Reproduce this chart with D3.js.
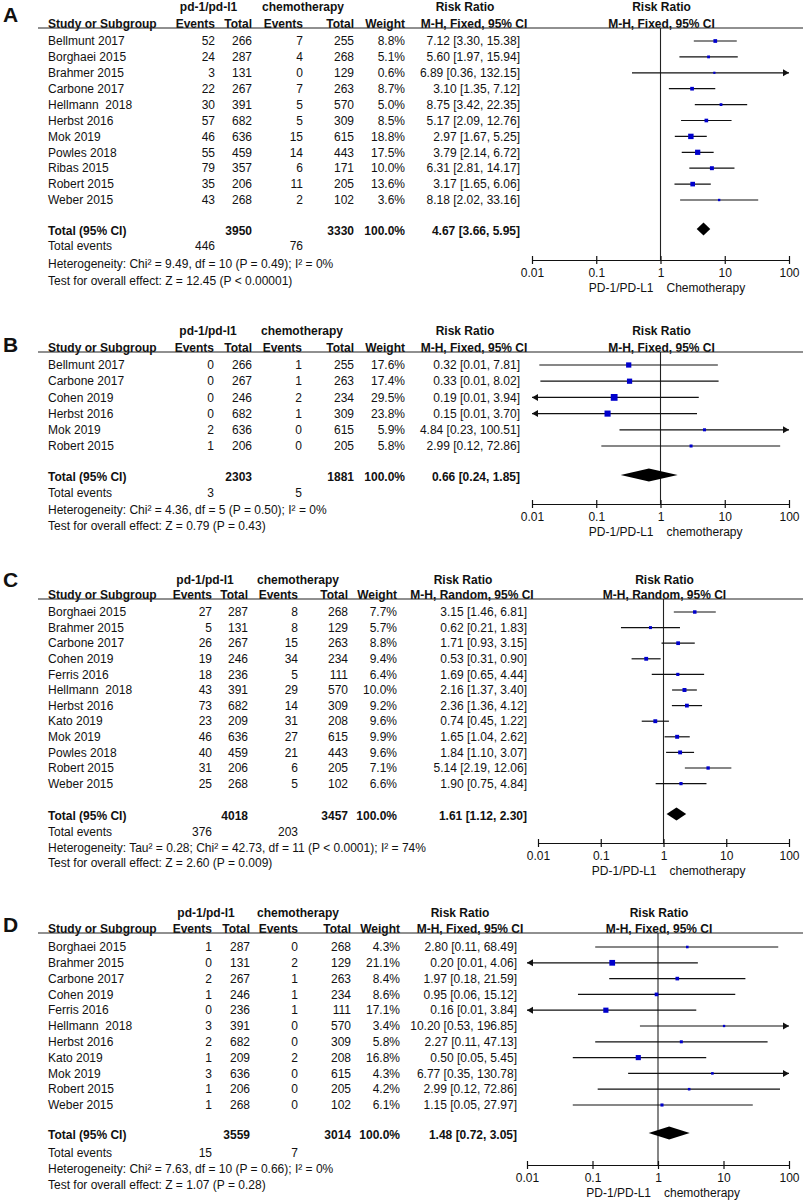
<!DOCTYPE html>
<html>
<head>
<meta charset="utf-8">
<script src="https://cdn.jsdelivr.net/npm/d3@7"></script>
<style>
  body { margin: 0; background: #fff; }
  svg text { font-family: "Liberation Sans", Arial, sans-serif; fill: #111; white-space: pre; }
</style>
</head>
<body>
<script>
// ---- data ----
var tickValues = [0.01, 0.1, 1, 10, 100];
var tickLabels = ["0.01", "0.1", "1", "10", "100"];

// A: Fixed
var aStudies = ["Bellmunt 2017", "Borghaei 2015", "Brahmer 2015", "Carbone 2017", "Hellmann  2018", "Herbst 2016", "Mok 2019", "Powles 2018", "Ribas 2015", "Robert 2015", "Weber 2015"];
var aPdEvents = [52, 24, 3, 22, 30, 57, 46, 55, 79, 35, 43];
var aPdTotal = [266, 287, 131, 267, 391, 682, 636, 459, 357, 206, 268];
var aChEvents = [7, 4, 0, 7, 5, 5, 15, 14, 6, 11, 2];
var aChTotal = [255, 268, 129, 263, 570, 309, 615, 443, 171, 205, 102];
var aWeight = [8.8, 5.1, 0.6, 8.7, 5.0, 8.5, 18.8, 17.5, 10.0, 13.6, 3.6];
var aRR = [7.12, 5.60, 6.89, 3.10, 8.75, 5.17, 2.97, 3.79, 6.31, 3.17, 8.18];
var aLo = [3.30, 1.97, 0.36, 1.35, 3.42, 2.09, 1.67, 2.14, 2.81, 1.65, 2.02];
var aHi = [15.38, 15.94, 132.15, 7.12, 22.35, 12.76, 5.25, 6.72, 14.17, 6.06, 33.16];
var aTotals = [3950, 3330, 100.0];   // pd total, chemo total, weight
var aPooled = [4.67, 3.66, 5.95];
var aEvents = [446, 76];

// B: Fixed
var bStudies = ["Bellmunt 2017", "Carbone 2017", "Cohen 2019", "Herbst 2016", "Mok 2019", "Robert 2015"];
var bPdEvents = [0, 0, 0, 0, 2, 1];
var bPdTotal = [266, 267, 246, 682, 636, 206];
var bChEvents = [1, 1, 2, 1, 0, 0];
var bChTotal = [255, 263, 234, 309, 615, 205];
var bWeight = [17.6, 17.4, 29.5, 23.8, 5.9, 5.8];
var bRR = [0.32, 0.33, 0.19, 0.15, 4.84, 2.99];
var bLo = [0.013, 0.0135, 0.009, 0.009, 0.23, 0.12];
var bHi = [7.81, 8.02, 3.94, 3.70, 100.51, 72.86];
var bTotals = [2303, 1881, 100.0];
var bPooled = [0.66, 0.24, 1.85];
var bEvents = [3, 5];

// C: Random
var cStudies = ["Borghaei 2015", "Brahmer 2015", "Carbone 2017", "Cohen 2019", "Ferris 2016", "Hellmann  2018", "Herbst 2016", "Kato 2019", "Mok 2019", "Powles 2018", "Robert 2015", "Weber 2015"];
var cPdEvents = [27, 5, 26, 19, 18, 43, 73, 23, 46, 40, 31, 25];
var cPdTotal = [287, 131, 267, 246, 236, 391, 682, 209, 636, 459, 206, 268];
var cChEvents = [8, 8, 15, 34, 5, 29, 14, 31, 27, 21, 6, 5];
var cChTotal = [268, 129, 263, 234, 111, 570, 309, 208, 615, 443, 205, 102];
var cWeight = [7.7, 5.7, 8.8, 9.4, 6.4, 10.0, 9.2, 9.6, 9.9, 9.6, 7.1, 6.6];
var cRR = [3.15, 0.62, 1.71, 0.53, 1.69, 2.16, 2.36, 0.74, 1.65, 1.84, 5.14, 1.90];
var cLo = [1.46, 0.21, 0.93, 0.31, 0.65, 1.37, 1.36, 0.45, 1.04, 1.10, 2.19, 0.75];
var cHi = [6.81, 1.83, 3.15, 0.90, 4.44, 3.40, 4.12, 1.22, 2.62, 3.07, 12.06, 4.84];
var cTotals = [4018, 3457, 100.0];
var cPooled = [1.61, 1.12, 2.30];
var cEvents = [376, 203];

// D: Fixed
var dStudies = ["Borghaei 2015", "Brahmer 2015", "Carbone 2017", "Cohen 2019", "Ferris 2016", "Hellmann  2018", "Herbst 2016", "Kato 2019", "Mok 2019", "Robert 2015", "Weber 2015"];
var dPdEvents = [1, 0, 2, 1, 0, 3, 2, 1, 3, 1, 1];
var dPdTotal = [287, 131, 267, 246, 236, 391, 682, 209, 636, 206, 268];
var dChEvents = [0, 2, 1, 1, 1, 0, 0, 2, 0, 0, 0];
var dChTotal = [268, 129, 263, 234, 111, 570, 309, 208, 615, 205, 102];
var dWeight = [4.3, 21.1, 8.4, 8.6, 17.1, 3.4, 5.8, 16.8, 4.3, 4.2, 6.1];
var dRR = [2.80, 0.20, 1.97, 0.95, 0.16, 10.20, 2.27, 0.50, 6.77, 2.99, 1.15];
var dLo = [0.11, 0.009, 0.18, 0.06, 0.009, 0.53, 0.11, 0.05, 0.35, 0.12, 0.05];
var dHi = [68.49, 4.06, 21.59, 15.12, 3.84, 196.85, 47.13, 5.45, 130.78, 72.86, 27.97];
var dTotals = [3559, 3014, 100.0];
var dPooled = [1.48, 0.72, 3.05];
var dEvents = [15, 7];

// ---- panel layout ----
var panels = [
  { label: "A", method: "M-H, Fixed, 95% CI", right: "Chemotherapy",
    het: "Heterogeneity: Chi\u00b2 = 9.49, df = 10 (P = 0.49); I\u00b2 = 0%",
    test: "Test for overall effect: Z = 12.45 (P < 0.00001)",
    studies: aStudies, pe: aPdEvents, pt: aPdTotal, ce: aChEvents, ct: aChTotal, w: aWeight, rr: aRR, lo: aLo, hi: aHi,
    totals: aTotals, pooled: aPooled, events: aEvents,
    labY: 15, h1: 7, h2: 24, line: 28, row0: 41, step: 15.9, total: 231, ev: 246, hetY: 264, testY: 281, axis: 260,
    cols: [215, 252, 303, 354, 405, 520], rrHead: 465, rrHead2: 474, x0: 532 },
  { label: "B", method: "M-H, Fixed, 95% CI", right: "chemotherapy",
    het: "Heterogeneity: Chi\u00b2 = 4.36, df = 5 (P = 0.50); I\u00b2 = 0%",
    test: "Test for overall effect: Z = 0.79 (P = 0.43)",
    studies: bStudies, pe: bPdEvents, pt: bPdTotal, ce: bChEvents, ct: bChTotal, w: bWeight, rr: bRR, lo: bLo, hi: bHi,
    totals: bTotals, pooled: bPooled, events: bEvents,
    labY: 345, h1: 331, h2: 348, line: 352, row0: 365, step: 16.2, total: 477, ev: 493, hetY: 510, testY: 526, axis: 504,
    cols: [214, 252, 302, 354, 405, 520], rrHead: 465, rrHead2: 474, x0: 532 },
  { label: "C", method: "M-H, Random, 95% CI", right: "chemotherapy",
    het: "Heterogeneity: Tau\u00b2 = 0.28; Chi\u00b2 = 42.73, df = 11 (P < 0.0001); I\u00b2 = 74%",
    test: "Test for overall effect: Z = 2.60 (P = 0.009)",
    studies: cStudies, pe: cPdEvents, pt: cPdTotal, ce: cChEvents, ct: cChTotal, w: cWeight, rr: cRR, lo: cLo, hi: cHi,
    totals: cTotals, pooled: cPooled, events: cEvents,
    labY: 580, h1: 580, h2: 595, line: 599, row0: 612, step: 15.6, total: 816, ev: 832, hetY: 848, testY: 863, axis: 843,
    cols: [212, 248, 298, 348, 397, 527], rrHead: 463, rrHead2: 472, x0: 538 },
  { label: "D", method: "M-H, Fixed, 95% CI", right: "chemotherapy",
    het: "Heterogeneity: Chi\u00b2 = 7.63, df = 10 (P = 0.66); I\u00b2 = 0%",
    test: "Test for overall effect: Z = 1.07 (P = 0.28)",
    studies: dStudies, pe: dPdEvents, pt: dPdTotal, ce: dChEvents, ct: dChTotal, w: dWeight, rr: dRR, lo: dLo, hi: dHi,
    totals: dTotals, pooled: dPooled, events: dEvents,
    labY: 925, h1: 913, h2: 929, line: 933, row0: 947, step: 15.8, total: 1135, ev: 1153, hetY: 1169, testY: 1185, axis: 1165,
    cols: [212, 250, 298, 351, 400, 517], rrHead: 460, rrHead2: 470, x0: 527 }
];

var W = 803, H = 1200;
var x1 = 789;
var studyX = 48;
var fs = 12;

var svg = d3.select("body").append("svg")
  .attr("width", W)
  .attr("height", H);

function txt(g, x, y, s, anchor, bold, size) {
  return g.append("text")
    .attr("x", x).attr("y", y).attr("dy", "0.35em")
    .attr("text-anchor", anchor || "start")
    .attr("font-size", (size || fs) + "px")
    .attr("font-weight", bold ? "bold" : "normal")
    .text(s);
}

function ci(rr, lo, hi) {
  return rr.toFixed(2) + " [" + lo.toFixed(2) + ", " + hi.toFixed(2) + "]";
}

panels.forEach(function(p) {
  var g = svg.append("g");
  var c = p.cols;
  var x = d3.scaleLog().domain([0.01, 100]).range([p.x0, x1]);
  var one = x(1);
  var y = function(i) { return p.row0 + i * p.step; };

  // panel letter
  txt(g, 3, p.labY, p.label, "start", true, 21);

  // headers
  txt(g, (c[0] + c[1]) / 2 - 25, p.h1, "pd-1/pd-l1", "middle", true);
  txt(g, c[2], p.h1, "chemotherapy", "middle", true);
  txt(g, p.rrHead, p.h1, "Risk Ratio", "middle", true);
  txt(g, one + 1, p.h1, "Risk Ratio", "middle", true);
  txt(g, studyX, p.h2, "Study or Subgroup", "start", true);
  txt(g, c[0], p.h2, "Events", "end", true);
  txt(g, c[1], p.h2, "Total", "end", true);
  txt(g, c[2], p.h2, "Events", "end", true);
  txt(g, c[3], p.h2, "Total", "end", true);
  txt(g, c[4], p.h2, "Weight", "end", true);
  txt(g, p.rrHead2, p.h2, p.method, "middle", true);
  txt(g, one + 1, p.h2, p.method, "middle", true);

  g.append("line")
    .attr("x1", 38).attr("x2", 803)
    .attr("y1", p.line).attr("y2", p.line)
    .attr("stroke", "#222").attr("stroke-width", 1.2);

  // study rows
  p.studies.forEach(function(s, i) {
    var yy = y(i);
    txt(g, studyX, yy, s);
    txt(g, c[0], yy, p.pe[i], "end");
    txt(g, c[1], yy, p.pt[i], "end");
    txt(g, c[2], yy, p.ce[i], "end");
    txt(g, c[3], yy, p.ct[i], "end");
    txt(g, c[4], yy, p.w[i].toFixed(1) + "%", "end");
    txt(g, c[5], yy, ci(p.rr[i], p.lo[i], p.hi[i]), "end");
  });

  // totals
  txt(g, studyX, p.total, "Total (95% CI)", "start", true);
  txt(g, c[1], p.total, p.totals[0], "end", true);
  txt(g, c[3], p.total, p.totals[1], "end", true);
  txt(g, c[4], p.total, p.totals[2].toFixed(1) + "%", "end", true);
  txt(g, c[5], p.total, ci(p.pooled[0], p.pooled[1], p.pooled[2]), "end", true);
  txt(g, studyX, p.ev, "Total events");
  txt(g, c[0], p.ev, p.events[0], "end");
  txt(g, c[2], p.ev, p.events[1], "end");
  txt(g, studyX, p.hetY, p.het);
  txt(g, studyX, p.testY, p.test);

  // line of no effect
  g.append("line")
    .attr("x1", one).attr("x2", one)
    .attr("y1", p.line).attr("y2", p.axis)
    .attr("stroke", "#222").attr("stroke-width", 1.1);

  // CI lines
  var rows = p.studies.map(function(s, i) { return i; });
  g.selectAll(".ci").data(rows).enter().append("line")
    .attr("x1", function(i) { return x(Math.max(p.lo[i], 0.01)); })
    .attr("x2", function(i) { return x(Math.min(p.hi[i], 100)); })
    .attr("y1", y).attr("y2", y)
    .attr("stroke", "#111").attr("stroke-width", 1.2);

  // arrows for clipped intervals
  rows.forEach(function(i) {
    var yy = y(i);
    if (p.hi[i] > 100) {
      var xr = x(100);
      g.append("path").attr("d", "M" + xr + "," + yy + "L" + (xr - 6) + "," + (yy - 3.5) + "L" + (xr - 6) + "," + (yy + 3.5) + "Z")
        .attr("fill", "#111");
    }
    if (p.lo[i] < 0.01) {
      var xl = x(0.01);
      g.append("path").attr("d", "M" + xl + "," + yy + "L" + (xl + 6) + "," + (yy - 3.5) + "L" + (xl + 6) + "," + (yy + 3.5) + "Z")
        .attr("fill", "#111");
    }
  });

  // weight squares
  var size = function(i) { return Math.max(2.2, 1.25 * Math.sqrt(p.w[i])); };
  g.selectAll(".sq").data(rows).enter().append("rect")
    .attr("x", function(i) { return x(p.rr[i]) - size(i) / 2; })
    .attr("y", function(i) { return y(i) - size(i) / 2; })
    .attr("width", size).attr("height", size)
    .attr("fill", "#0000cc");

  // pooled diamond
  var yd = p.total - 2;
  g.append("path")
    .attr("d", "M" + x(p.pooled[1]) + "," + yd +
      "L" + x(p.pooled[0]) + "," + (yd - 6.5) +
      "L" + x(p.pooled[2]) + "," + yd +
      "L" + x(p.pooled[0]) + "," + (yd + 6.5) + "Z")
    .attr("fill", "#000");

  // axis
  var ax = g.append("g")
    .attr("transform", "translate(0," + p.axis + ")")
    .call(d3.axisBottom(x)
      .tickValues(tickValues)
      .tickFormat(function(d, i) { return tickLabels[i]; })
      .tickSizeOuter(0));
  ax.select(".domain").attr("stroke", "#111").attr("stroke-width", 1.2);
  ax.selectAll(".tick line").attr("y1", -4).attr("y2", 4).attr("stroke", "#111").attr("stroke-width", 1.2);
  ax.selectAll(".tick text")
    .attr("y", 8)
    .attr("font-size", fs + "px")
    .attr("font-family", "Liberation Sans, Arial, sans-serif")
    .attr("fill", "#111");

  txt(g, one - 7, p.axis + 28, "PD-1/PD-L1", "end");
  txt(g, one + 6, p.axis + 28, p.right, "start");
});
</script>
</body>
</html>
